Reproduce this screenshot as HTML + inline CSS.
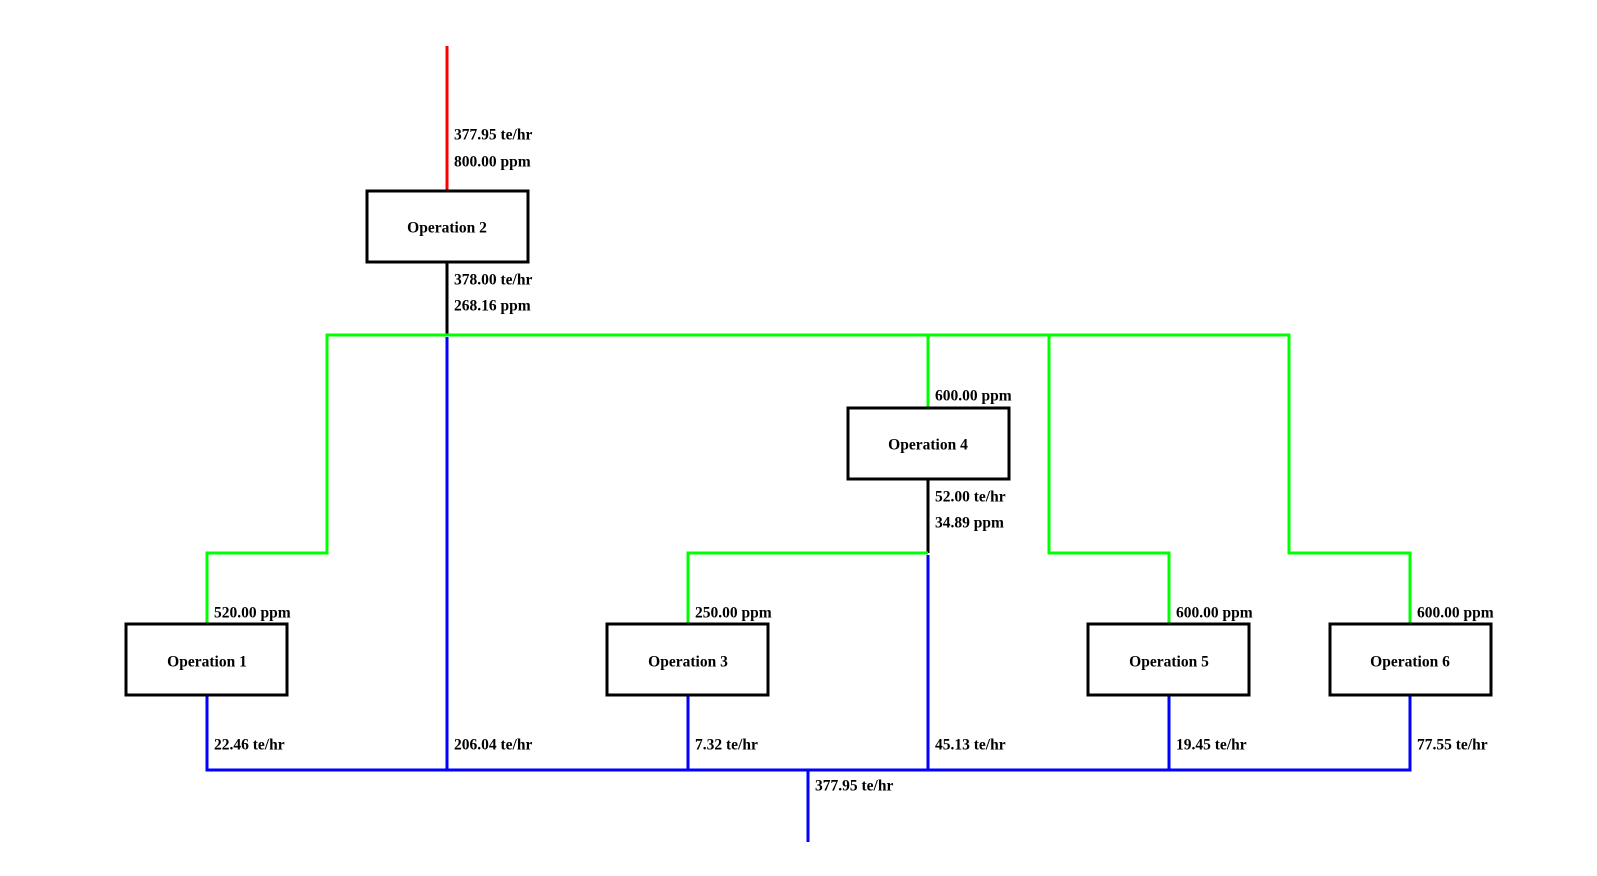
<!DOCTYPE html>
<html><head><meta charset="utf-8"><style>
html,body{margin:0;padding:0;background:#fff;}
svg{display:block;}
text{font-family:"Liberation Serif",serif;font-weight:bold;font-size:15.5px;fill:#000;}
</style></head><body>
<svg width="1597" height="876" viewBox="0 0 1597 876" xmlns="http://www.w3.org/2000/svg">
<g fill="none" stroke-width="3">
<line x1="447" y1="46" x2="447" y2="191" stroke="#ff0000"/>
<line x1="447" y1="262" x2="447" y2="335" stroke="#000"/>
<line x1="928" y1="479" x2="928" y2="553" stroke="#000"/>
<polyline points="207,624 207,553 327,553 327,335 1289,335 1289,553 1410,553 1410,624" stroke="#00ff00"/>
<line x1="928" y1="335" x2="928" y2="408" stroke="#00ff00"/>
<polyline points="688,624 688,553 928,553" stroke="#00ff00"/>
<polyline points="1049,335 1049,553 1169,553 1169,624" stroke="#00ff00"/>
<polyline points="207,695 207,770 1410,770 1410,695" stroke="#0000ff"/>
<line x1="447" y1="337" x2="447" y2="770" stroke="#0000ff"/>
<line x1="688" y1="695" x2="688" y2="770" stroke="#0000ff"/>
<line x1="928" y1="555" x2="928" y2="770" stroke="#0000ff"/>
<line x1="1169" y1="695" x2="1169" y2="770" stroke="#0000ff"/>
<line x1="808" y1="770" x2="808" y2="842" stroke="#0000ff"/>
<g stroke="#000" fill="#fff">
<rect x="367" y="191" width="161" height="71"/>
<rect x="848" y="408" width="161" height="71"/>
<rect x="126" y="624" width="161" height="71"/>
<rect x="607" y="624" width="161" height="71"/>
<rect x="1088" y="624" width="161" height="71"/>
<rect x="1330" y="624" width="161" height="71"/>
</g>
</g>
<g text-anchor="middle" dominant-baseline="central">
<text x="447" y="228">Operation 2</text>
<text x="928" y="445">Operation 4</text>
<text x="207" y="662">Operation 1</text>
<text x="688" y="662">Operation 3</text>
<text x="1169" y="662">Operation 5</text>
<text x="1410" y="662">Operation 6</text>
</g>
<g dominant-baseline="central">
<text x="454" y="135">377.95 te/hr</text>
<text x="454" y="162">800.00 ppm</text>
<text x="454" y="280">378.00 te/hr</text>
<text x="454" y="306">268.16 ppm</text>
<text x="935" y="396">600.00 ppm</text>
<text x="935" y="497">52.00 te/hr</text>
<text x="935" y="523">34.89 ppm</text>
<text x="214" y="613">520.00 ppm</text>
<text x="695" y="613">250.00 ppm</text>
<text x="1176" y="613">600.00 ppm</text>
<text x="1417" y="613">600.00 ppm</text>
<text x="214" y="745">22.46 te/hr</text>
<text x="454" y="745">206.04 te/hr</text>
<text x="695" y="745">7.32 te/hr</text>
<text x="935" y="745">45.13 te/hr</text>
<text x="1176" y="745">19.45 te/hr</text>
<text x="1417" y="745">77.55 te/hr</text>
<text x="815" y="786">377.95 te/hr</text>
</g>
</svg>
</body></html>
